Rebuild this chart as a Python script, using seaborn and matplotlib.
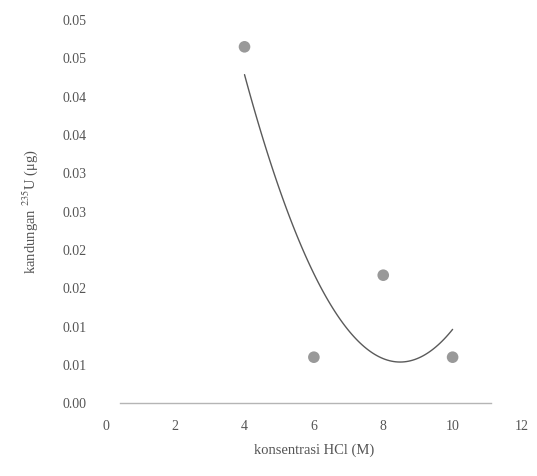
import matplotlib
matplotlib.use("Agg")
import matplotlib.pyplot as plt
import seaborn as sns
import pandas as pd

# data
hcl_conc = [4, 6, 8, 10]
u235_content = [0.0465, 0.0060, 0.0167, 0.0060]
x_ticks = [0, 2, 4, 6, 8, 10, 12]
y_ticks = [0.0, 0.005, 0.010, 0.015, 0.020, 0.025, 0.030, 0.035, 0.040, 0.045, 0.050]
y_tick_labels = ["0.00", "0.01", "0.01", "0.02", "0.02", "0.03", "0.03",
                 "0.04", "0.04", "0.05", "0.05"]
x_label = "konsentrasi HCl (M)"
y_label = "kandungan $^{235}$U (μg)"

df = pd.DataFrame({"x": hcl_conc, "y": u235_content})

sns.set_theme(style="white")
plt.rcParams["font.family"] = ["Liberation Serif", "DejaVu Serif"]
plt.rcParams["mathtext.fontset"] = "stix"

fig = plt.figure(figsize=(5.37, 4.76), dpi=100)
ax = fig.add_axes([0.197, 0.153, 0.775, 0.805])

sns.regplot(data=df, x="x", y="y", order=2, ci=None, ax=ax,
            scatter_kws=dict(s=70, color="#8e8e8e", edgecolor="none", alpha=0.9),
            line_kws=dict(color="#5a5a5a", lw=1.0))

ax.set_xlim(0, 12)
ax.set_ylim(0, 0.05)
ax.set_xticks(x_ticks)
ax.set_xticklabels([str(t) for t in x_ticks])
ax.set_yticks(y_ticks)
ax.set_yticklabels(y_tick_labels)
ax.tick_params(axis="both", length=0, labelsize=10, labelcolor="#555555")
ax.tick_params(axis="y", pad=14)
ax.tick_params(axis="x", pad=12)

for s in ["top", "right", "left"]:
    ax.spines[s].set_visible(False)
ax.spines["bottom"].set_color("#b5b5b5")
ax.spines["bottom"].set_linewidth(1.0)
ax.spines["bottom"].set_bounds(0.4, 11.1)

ax.set_xlabel(x_label, fontsize=10.5, color="#555555", labelpad=8)
ax.set_ylabel(y_label, fontsize=10.5, color="#555555", labelpad=16)

fig.savefig("out.png", dpi=100, facecolor="white")
